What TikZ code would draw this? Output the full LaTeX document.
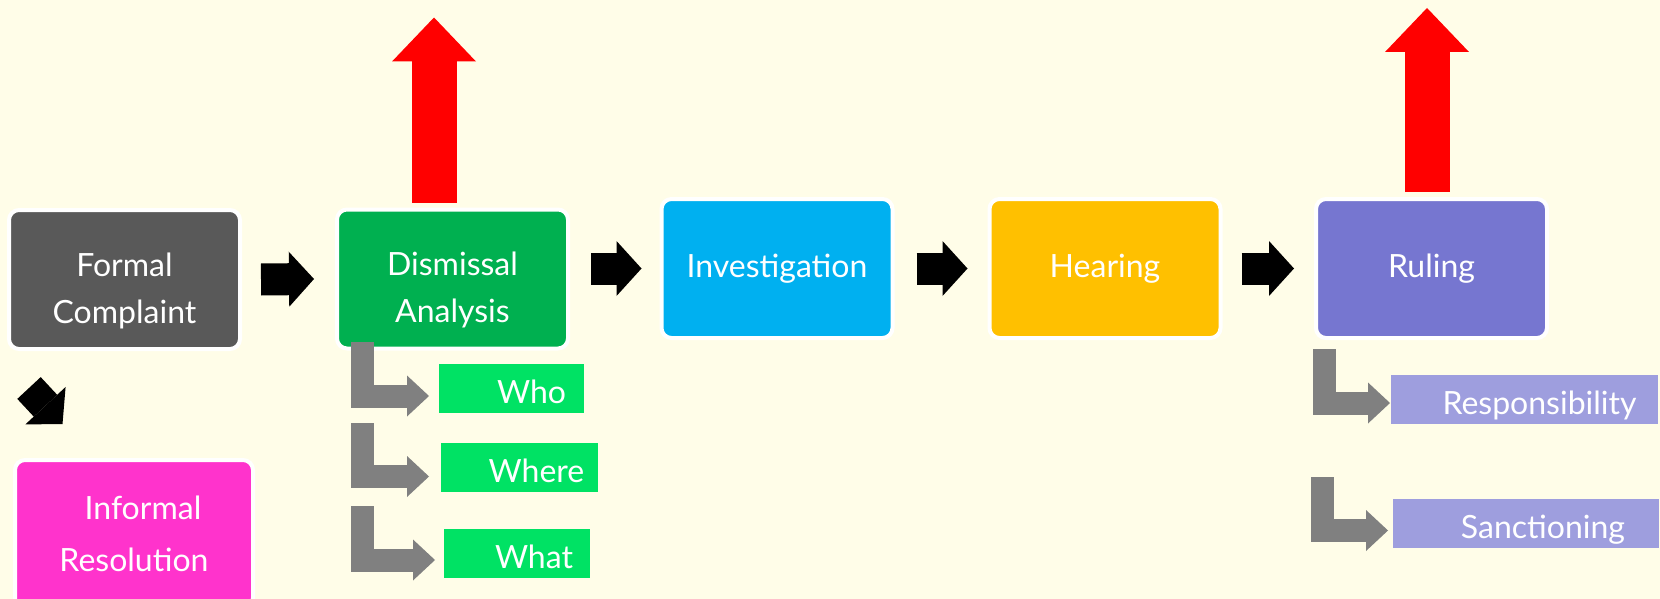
\documentclass[tikz,border=0pt]{standalone}
\usepackage{fontspec}
\setmainfont{Lato}
\usepackage{tikz}
\usetikzlibrary{positioning,%
  arrows.meta,%
  calc%
}

\definecolor{paper}{RGB}{255,253,232}
\definecolor{slate}{RGB}{89,89,89}
\definecolor{leaf}{RGB}{0,176,80}
\definecolor{sky}{RGB}{0,176,240}
\definecolor{amber}{RGB}{255,192,0}
\definecolor{lilac}{RGB}{118,118,208}
\definecolor{mint}{RGB}{0,226,100}
\definecolor{lavender}{RGB}{158,158,222}
\definecolor{rose}{RGB}{255,51,204}
\definecolor{elbowgray}{RGB}{128,128,128}

\tikzset{
  stage/.style={draw=white, line width=4pt, rounded corners=10pt, outer sep=0pt,
    minimum width=231pt, minimum height=139pt, text=white, align=center,
    font=\fontsize{32}{47}\selectfont},
  tag/.style={outer sep=0pt, inner sep=0pt, minimum height=49pt, text=white,
    text height=33pt, text depth=3pt, font=\fontsize{32}{37}\selectfont},
  blkarrow/.style={line width=32pt, -{Triangle[length=25pt,width=55pt,line width=0pt]}},
  uparrow/.style={red, line width=45pt, -{Triangle[length=44pt,width=84pt,line width=0pt]}},
  elbow/.style={elbowgray, line width=23pt, line join=miter,
    -{Triangle[length=22pt,width=41pt,line width=0pt]}}
}

\begin{document}
\begin{tikzpicture}[x=1pt,y=-1pt]
    \fill [paper] (0,0) rectangle (1660,599);
    \clip (0,0) rectangle (1660,599);

    % main stages
    \node [stage, fill=slate] (formal) at (124.5,279.5) {\rule{0pt}{46pt}Formal\\Complaint};
    \node [stage, fill=leaf] (dismissal) at (452.5,279) {\rule{0pt}{46pt}Dismissal\\Analysis};
    \node [stage, fill=sky] (invest) at (777,268.5) {Investigation};
    \node [stage, fill=amber] (hearing) at (1105,268.5) {Hearing};
    \node [stage, fill=lilac] (ruling) at (1431.5,268.5) {Ruling};
    \node [stage, fill=rose, minimum width=238pt, minimum height=148pt,
      font=\fontsize{32}{52}\selectfont] (informal) at (134,534) {\hspace*{18pt}Informal\\Resolution};

    % sub items
    \node [tag, fill=mint, minimum width=145pt] (who) at (511.5,388.5) {\hspace*{40pt}Who};
    \node [tag, fill=mint, minimum width=157pt] (where) at (519.5,467.5) {\hspace*{34pt}Where};
    \node [tag, fill=mint, minimum width=146pt] (what) at (517,553) {\hspace*{34pt}What};
    \node [tag, fill=lavender, minimum width=267pt] (resp) at (1524.5,399) {\hspace*{30pt}Responsibility};
    \node [tag, fill=lavender, minimum width=266pt] (sanct) at (1526,523.5) {\hspace*{34pt}Sanctioning};

    % flow arrows
    \draw [blkarrow] ([xshift=21pt]formal.east) -- ([xshift=-23pt]dismissal.west);
    \draw [blkarrow] ([xshift=23pt]dismissal.east |- invest.west) -- ([xshift=-20pt]invest.west);
    \draw [blkarrow] ([xshift=24pt]invest.east) -- ([xshift=-22pt]hearing.west);
    \draw [blkarrow] ([xshift=21pt]hearing.east) -- ([xshift=-22pt]ruling.west);

    \coordinate (dropstart) at (29,388);
    \coordinate (droptip) at (62.5,424);
    \draw [blkarrow] (dropstart) -- (droptip);

    % exits
    \draw [uparrow] ([xshift=-18.5pt,yshift=7pt]dismissal.north) -- ([xshift=-18.5pt,yshift=192pt]dismissal.north);
    \draw [uparrow] ([xshift=-4.5pt,yshift=7pt]ruling.north) -- ([xshift=-4.5pt,yshift=191pt]ruling.north);

    % elbows
    \coordinate (e1) at (362,342);
    \coordinate (e2) at (362,423);
    \coordinate (e3) at (362,506);
    \coordinate (e4) at (1324.5,349);
    \coordinate (e5) at (1322.5,477);
    \draw [elbow] (e1) |- ([xshift=-10pt,yshift=-7.5pt]who.west);
    \draw [elbow] (e2) |- ([xshift=-12pt,yshift=-9pt]where.west);
    \draw [elbow] (e3) |- ([xshift=-9pt,yshift=-7pt]what.west);
    \draw [elbow] (e4) |- ([xshift=-1pt,yshift=-4pt]resp.west);
    \draw [elbow] (e5) |- ([xshift=-5pt,yshift=-7pt]sanct.west);
\end{tikzpicture}
\end{document}
